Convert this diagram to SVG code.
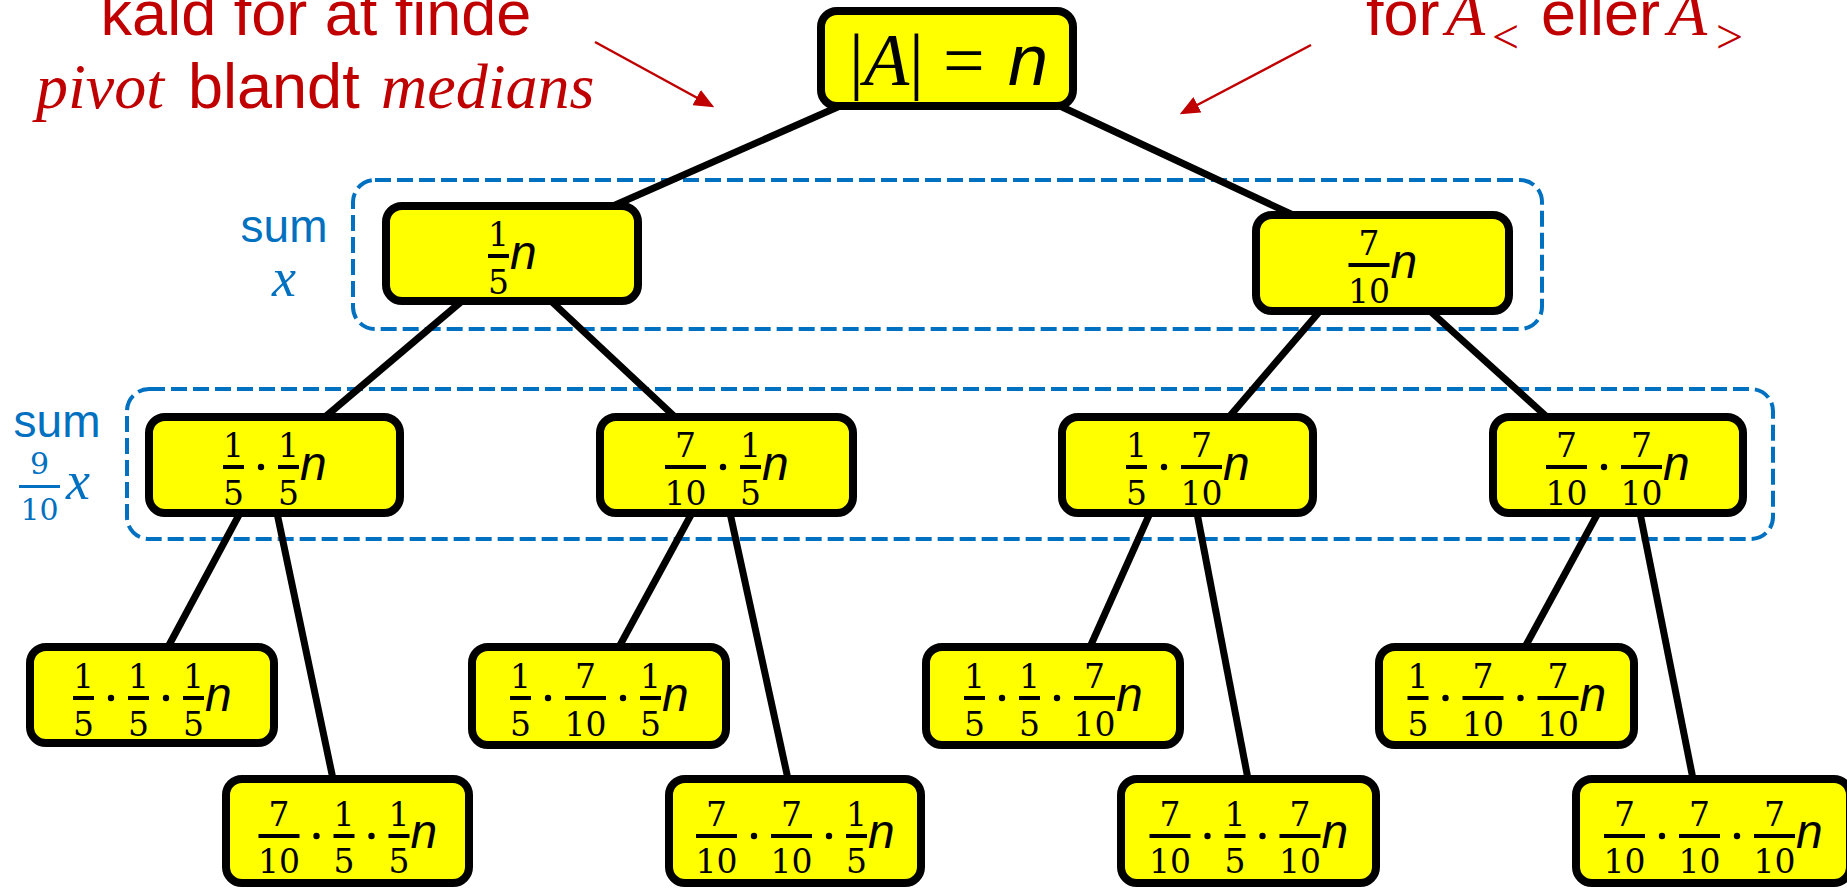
<svg xmlns="http://www.w3.org/2000/svg" width="1847" height="888" viewBox="0 0 1847 888">
<style>
.nd{fill:#FFFF00;stroke:#000;stroke-width:8}
.bar{fill:#000}
.d{font-family:"DejaVu Serif","Liberation Serif",serif;font-size:33px;text-anchor:middle;fill:#000}
.n{font-family:"Liberation Sans",sans-serif;font-style:italic;font-size:48px;fill:#000}
.cn line{stroke:#000;stroke-width:7}
.grp{fill:none;stroke:#0070C0;stroke-width:4;stroke-dasharray:16 6}
.blue{font-family:"Liberation Sans",sans-serif;font-size:46px;fill:#0070C0;text-anchor:middle}
.bx{font-family:"Liberation Serif",serif;font-style:italic;font-size:54px;fill:#0070C0}
.bd{font-family:"DejaVu Serif","Liberation Serif",serif;font-size:30px;fill:#0070C0;text-anchor:middle}
.red{font-family:"Liberation Sans",sans-serif;font-size:63px;fill:#C00000}
.ri{font-family:"Liberation Serif",serif;font-style:italic;font-size:64px}
.sub{font-family:"Liberation Serif",serif;font-size:48px}
.ar{stroke:#C00000;stroke-width:2.5;fill:none}
</style>
<defs>
<marker id="ah" markerWidth="8" markerHeight="7" refX="7" refY="3.5" orient="auto" markerUnits="strokeWidth">
<path d="M0,0 L8,3.5 L0,7 Z" fill="#C00000"/>
</marker>
</defs>

<!-- red annotations -->
<g id="note-left">
<text class="red" x="316" y="35" text-anchor="middle">kald for at finde</text>
<text class="red" y="108"><tspan x="36" class="ri">pivot</tspan><tspan x="188">blandt</tspan><tspan x="381" class="ri" font-size="62">medians</tspan></text>
<line class="ar" x1="595" y1="42" x2="712" y2="106" marker-end="url(#ah)"/>
</g>
<g id="note-right">
<text class="red" y="35" font-size="61"><tspan x="1366">for</tspan><tspan x="1446" class="ri" font-size="66">A</tspan><tspan x="1492" dy="18" class="sub">&lt;</tspan><tspan x="1541" dy="-18">eller</tspan><tspan x="1668" class="ri" font-size="66">A</tspan><tspan x="1716" dy="18" class="sub">&gt;</tspan></text>
<line class="ar" x1="1311" y1="45" x2="1182" y2="113" marker-end="url(#ah)"/>
</g>

<!-- group boxes -->
<g id="sum1">
<rect class="grp" x="353" y="180" width="1189" height="149" rx="22"/>
<text class="blue" x="284" y="242">sum</text>
<text class="bx" x="284" y="296" text-anchor="middle">x</text>
</g>
<g id="sum2">
<rect class="grp" x="127" y="389" width="1646" height="150" rx="22"/>
<text class="blue" x="57" y="437">sum</text>
<rect x="19" y="485" width="41" height="3" fill="#0070C0"/>
<text class="bd" x="39.5" y="474">9</text>
<text class="bd" x="39.5" y="520">10</text>
<text class="bx" x="66" y="499">x</text>
</g>

<!-- connectors -->
<g id="connectors" class="cn">
<line x1="840" y1="106" x2="613" y2="206"/>
<line x1="1060" y1="106" x2="1293" y2="215"/>
<line x1="462" y1="301" x2="325" y2="417"/>
<line x1="551" y1="301" x2="675" y2="417"/>
<line x1="1320" y1="311" x2="1229" y2="417"/>
<line x1="1430" y1="311" x2="1547" y2="417"/>
<line x1="240" y1="513" x2="168" y2="647"/>
<line x1="277" y1="513" x2="333" y2="779"/>
<line x1="692" y1="513" x2="619" y2="647"/>
<line x1="730" y1="513" x2="788" y2="779"/>
<line x1="1150" y1="513" x2="1090" y2="647"/>
<line x1="1197" y1="513" x2="1248" y2="779"/>
<line x1="1598" y1="513" x2="1525" y2="647"/>
<line x1="1640" y1="513" x2="1693" y2="779"/>
</g>

<!-- root -->
<g id="root">
<rect class="nd" x="821" y="11" width="252" height="95" rx="16"/>
<text y="85" font-family="Liberation Serif" font-size="74"><tspan x="849">|</tspan><tspan x="864" font-style="italic">A</tspan><tspan x="909">|</tspan><tspan x="943">=</tspan><tspan x="1008" font-family="Liberation Sans" font-size="72" font-style="italic">n</tspan></text>
</g>

<!-- level 1 -->
<g id="n1L">
<rect class="nd" x="386" y="206" width="252" height="95" rx="16"/>
<rect class="bar" x="488" y="254" width="21" height="4"/>
<text class="d" x="498.5" y="246">1</text><text class="d" x="498.5" y="294">5</text>
<text class="n" x="510" y="269">n</text>
</g>
<g id="n1R">
<rect class="nd" x="1256" y="215" width="253" height="96" rx="16"/>
<rect class="bar" x="1348.5" y="263" width="41" height="4"/>
<text class="d" x="1369" y="255">7</text><text class="d" x="1369" y="303">10</text>
<text class="n" x="1390.5" y="278">n</text>
</g>

<!-- level 2 -->
<g id="n2A">
<rect class="nd" x="149" y="417" width="251" height="96" rx="16"/>
<rect class="bar" x="223" y="465" width="21" height="4"/>
<text class="d" x="233.5" y="457">1</text><text class="d" x="233.5" y="505">5</text>
<circle cx="261" cy="467" r="3.2"/>
<rect class="bar" x="278" y="465" width="21" height="4"/>
<text class="d" x="288.5" y="457">1</text><text class="d" x="288.5" y="505">5</text>
<text class="n" x="300" y="480">n</text>
</g>
<g id="n2B">
<rect class="nd" x="600" y="417" width="253" height="96" rx="16"/>
<rect class="bar" x="665" y="465" width="41" height="4"/>
<text class="d" x="685.5" y="457">7</text><text class="d" x="685.5" y="505">10</text>
<circle cx="723" cy="467" r="3.2"/>
<rect class="bar" x="740" y="465" width="21" height="4"/>
<text class="d" x="750.5" y="457">1</text><text class="d" x="750.5" y="505">5</text>
<text class="n" x="762" y="480">n</text>
</g>
<g id="n2C">
<rect class="nd" x="1062" y="417" width="251" height="96" rx="16"/>
<rect class="bar" x="1126" y="465" width="21" height="4"/>
<text class="d" x="1136.5" y="457">1</text><text class="d" x="1136.5" y="505">5</text>
<circle cx="1164" cy="467" r="3.2"/>
<rect class="bar" x="1181" y="465" width="41" height="4"/>
<text class="d" x="1201.5" y="457">7</text><text class="d" x="1201.5" y="505">10</text>
<text class="n" x="1223" y="480">n</text>
</g>
<g id="n2D">
<rect class="nd" x="1493" y="417" width="250" height="96" rx="16"/>
<rect class="bar" x="1546" y="465" width="41" height="4"/>
<text class="d" x="1566.5" y="457">7</text><text class="d" x="1566.5" y="505">10</text>
<circle cx="1604" cy="467" r="3.2"/>
<rect class="bar" x="1621" y="465" width="41" height="4"/>
<text class="d" x="1641.5" y="457">7</text><text class="d" x="1641.5" y="505">10</text>
<text class="n" x="1663" y="480">n</text>
</g>

<!-- level 3 top row -->
<g id="n3a">
<rect class="nd" x="30" y="647" width="244" height="96" rx="16"/>
<rect class="bar" x="73" y="696" width="21" height="4"/>
<text class="d" x="83.5" y="688">1</text><text class="d" x="83.5" y="736">5</text>
<circle cx="111" cy="698" r="3.2"/>
<rect class="bar" x="128" y="696" width="21" height="4"/>
<text class="d" x="138.5" y="688">1</text><text class="d" x="138.5" y="736">5</text>
<circle cx="166" cy="698" r="3.2"/>
<rect class="bar" x="183" y="696" width="21" height="4"/>
<text class="d" x="193.5" y="688">1</text><text class="d" x="193.5" y="736">5</text>
<text class="n" x="205" y="711">n</text>
</g>
<g id="n3c">
<rect class="nd" x="472" y="647" width="254" height="98" rx="16"/>
<rect class="bar" x="510" y="696" width="21" height="4"/>
<text class="d" x="520.5" y="688">1</text><text class="d" x="520.5" y="736">5</text>
<circle cx="548" cy="698" r="3.2"/>
<rect class="bar" x="565" y="696" width="41" height="4"/>
<text class="d" x="585.5" y="688">7</text><text class="d" x="585.5" y="736">10</text>
<circle cx="623" cy="698" r="3.2"/>
<rect class="bar" x="640" y="696" width="21" height="4"/>
<text class="d" x="650.5" y="688">1</text><text class="d" x="650.5" y="736">5</text>
<text class="n" x="662" y="711">n</text>
</g>
<g id="n3e">
<rect class="nd" x="926" y="647" width="254" height="98" rx="16"/>
<rect class="bar" x="964" y="696" width="21" height="4"/>
<text class="d" x="974.5" y="688">1</text><text class="d" x="974.5" y="736">5</text>
<circle cx="1002" cy="698" r="3.2"/>
<rect class="bar" x="1019" y="696" width="21" height="4"/>
<text class="d" x="1029.5" y="688">1</text><text class="d" x="1029.5" y="736">5</text>
<circle cx="1057" cy="698" r="3.2"/>
<rect class="bar" x="1074" y="696" width="41" height="4"/>
<text class="d" x="1094.5" y="688">7</text><text class="d" x="1094.5" y="736">10</text>
<text class="n" x="1116" y="711">n</text>
</g>
<g id="n3g">
<rect class="nd" x="1379" y="647" width="255" height="98" rx="16"/>
<rect class="bar" x="1407.5" y="696" width="21" height="4"/>
<text class="d" x="1418" y="688">1</text><text class="d" x="1418" y="736">5</text>
<circle cx="1445.5" cy="698" r="3.2"/>
<rect class="bar" x="1462.5" y="696" width="41" height="4"/>
<text class="d" x="1483" y="688">7</text><text class="d" x="1483" y="736">10</text>
<circle cx="1520.5" cy="698" r="3.2"/>
<rect class="bar" x="1537.5" y="696" width="41" height="4"/>
<text class="d" x="1558" y="688">7</text><text class="d" x="1558" y="736">10</text>
<text class="n" x="1579.5" y="711">n</text>
</g>

<!-- level 3 bottom row -->
<g id="n3b">
<rect class="nd" x="226" y="779" width="243" height="104" rx="16"/>
<rect class="bar" x="258.5" y="834" width="41" height="4"/>
<text class="d" x="279" y="826">7</text><text class="d" x="279" y="873">10</text>
<circle cx="316.5" cy="836" r="3.2"/>
<rect class="bar" x="333.5" y="834" width="21" height="4"/>
<text class="d" x="344" y="826">1</text><text class="d" x="344" y="873">5</text>
<circle cx="371.5" cy="836" r="3.2"/>
<rect class="bar" x="388.5" y="834" width="21" height="4"/>
<text class="d" x="399" y="826">1</text><text class="d" x="399" y="873">5</text>
<text class="n" x="410.5" y="848">n</text>
</g>
<g id="n3d">
<rect class="nd" x="669" y="779" width="252" height="104" rx="16"/>
<rect class="bar" x="696" y="834" width="41" height="4"/>
<text class="d" x="716.5" y="826">7</text><text class="d" x="716.5" y="873">10</text>
<circle cx="754" cy="836" r="3.2"/>
<rect class="bar" x="771" y="834" width="41" height="4"/>
<text class="d" x="791.5" y="826">7</text><text class="d" x="791.5" y="873">10</text>
<circle cx="829" cy="836" r="3.2"/>
<rect class="bar" x="846" y="834" width="21" height="4"/>
<text class="d" x="856.5" y="826">1</text><text class="d" x="856.5" y="873">5</text>
<text class="n" x="868" y="848">n</text>
</g>
<g id="n3f">
<rect class="nd" x="1121" y="779" width="255" height="104" rx="16"/>
<rect class="bar" x="1149.5" y="834" width="41" height="4"/>
<text class="d" x="1170" y="826">7</text><text class="d" x="1170" y="873">10</text>
<circle cx="1207.5" cy="836" r="3.2"/>
<rect class="bar" x="1224.5" y="834" width="21" height="4"/>
<text class="d" x="1235" y="826">1</text><text class="d" x="1235" y="873">5</text>
<circle cx="1262.5" cy="836" r="3.2"/>
<rect class="bar" x="1279.5" y="834" width="41" height="4"/>
<text class="d" x="1300" y="826">7</text><text class="d" x="1300" y="873">10</text>
<text class="n" x="1321.5" y="848">n</text>
</g>
<g id="n3h">
<rect class="nd" x="1576" y="779" width="274" height="104" rx="16"/>
<rect class="bar" x="1604" y="834" width="41" height="4"/>
<text class="d" x="1624.5" y="826">7</text><text class="d" x="1624.5" y="873">10</text>
<circle cx="1662" cy="836" r="3.2"/>
<rect class="bar" x="1679" y="834" width="41" height="4"/>
<text class="d" x="1699.5" y="826">7</text><text class="d" x="1699.5" y="873">10</text>
<circle cx="1737" cy="836" r="3.2"/>
<rect class="bar" x="1754" y="834" width="41" height="4"/>
<text class="d" x="1774.5" y="826">7</text><text class="d" x="1774.5" y="873">10</text>
<text class="n" x="1796" y="848">n</text>
</g>
</svg>
